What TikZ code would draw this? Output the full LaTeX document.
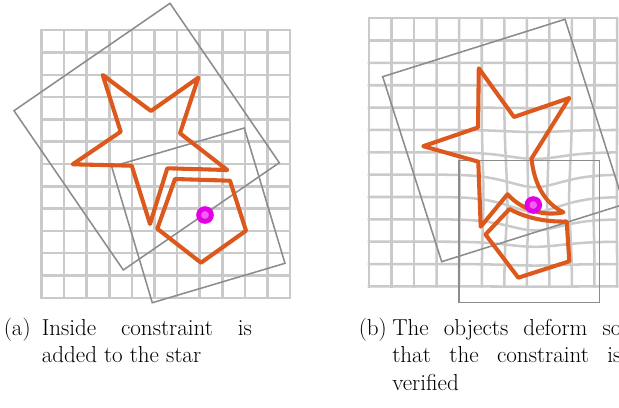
\documentclass[tikz,border=0pt]{standalone}
\usepackage{tikz}
\usetikzlibrary{positioning, calc}
\definecolor{gridgray}{RGB}{202,202,202}
\definecolor{boxgray}{RGB}{140,140,140}
\definecolor{shapeorange}{RGB}{221,88,28}
\definecolor{dotmag}{RGB}{228,0,228}
\definecolor{dotpink}{RGB}{242,96,242}
\tikzset{
  gridln/.style={gridgray, line width=1.8pt, line cap=rect},
  framebox/.style={boxgray, line width=1.1pt, line join=miter},
  objshape/.style={shapeorange, line width=2.9pt, line join=round},
  cdot/.style={circle, draw=dotmag, line width=3.5pt, fill=dotpink, minimum size=9pt, inner sep=0pt},
  captag/.style={inner sep=0pt, anchor=base west, font=\fontsize{16.4}{19.6}\selectfont},
}
\newcommand{\capbox}[2]{\parbox[t]{#1}{\tolerance=9999\hbadness=10000\hyphenpenalty=10000 #2}}

\begin{document}
\begin{tikzpicture}[x=0.025cm, y=-0.025cm,
    declare function={bump(\a,\b)=exp(-(((\a-535)/40)^2+((\b-194)/46)^2));
      wx(\a,\b)=\a-0.18*(\a-535)*bump(\a,\b);
      wy(\a,\b)=\b+15*bump(\a,\b);}]
  \useasboundingbox (0,0) rectangle (619,408);
  \clip (0,0) rectangle (619,408);

  % (a) grid
  \foreach \i in {0,...,11}
    \draw[gridln] (41.5+22.6*\i,30.2) -- ++(0,267.6);
  \foreach \j in {0,...,12}
    \draw[gridln] (41.5,30.2+22.3*\j) -- ++(248.6,0);

  % (a) frames
  \draw[framebox] (170,3.3) -- (279.3,162.7) -- (123.3,270) -- (14,110.7) -- cycle;
  \draw[framebox] (111.7,166.7) -- (244.3,128) -- (285,263.3) -- (152.3,302.7) -- cycle;

  % (a) star and pentagon
  \draw[objshape] (102.7,75) -- (151,111) -- (198.3,77.7) -- (180,133.3) -- (227.3,170)
    -- (167.3,168.3) -- (150,224) -- (131.7,165.7) -- (72.7,164.3) -- (120.7,131.7) -- cycle;
  \draw[objshape] (175,179) -- (230,180.7) -- (246,230.7) -- (201,262.7) -- (157.3,228.7) -- cycle;
  \node[cdot] (dota) at (205,215) {};

  % (b) deformed grid
  \foreach \i in {0,...,11}
    \draw[gridln] plot[domain=0:12, samples=49, variable=\t]
      ({wx(369+22.55*\i,18.2+22.35*\t)},{wy(369+22.55*\i,18.2+22.35*\t)});
  \foreach \j in {0,...,12}
    \draw[gridln] plot[domain=0:11, samples=45, variable=\t]
      ({wx(369+22.55*\t,18.2+22.35*\j)},{wy(369+22.55*\t,18.2+22.35*\j)});

  % (b) frames
  \draw[framebox] (382.7,76.7) -- (565,19.3) -- (624,204.3) -- (441.7,261.7) -- cycle;
  \draw[framebox] (459,160.7) rectangle (599.3,302.7);

  % (b) deformed star and pentagon
  \draw[objshape] (478.8,68.3) -- (514,117) -- (569.3,98) -- (531.5,158.5)
    .. controls (534,183) and (544,203) .. (563.5,212.3)
    .. controls (546,216) and (524,212) .. (507.5,194.3)
    -- (480.7,226.7) -- (478.3,161.7) -- (423.3,146.2) -- (478,127.5) -- cycle;
  \draw[objshape] (509.5,209)
    .. controls (528,219) and (548,222) .. (566.7,221.5)
    -- (569.3,261.3) -- (518.3,277.7) -- (485.5,234.5) -- cycle;
  \node[cdot] (dotb) at (533.3,205) {};

  % captions
  \node[captag] (taga) at (3.5,335) {(a)};
  \node[captag] (capa) at (41.5,335) {\capbox{149.4pt}{Inside constraint is added to the star}};
  \node[captag] (tagb) at (358.5,335) {(b)};
  \node[captag] (capb) at (392,335) {\capbox{163pt}{The objects deform so that the constraint is verified}};
\end{tikzpicture}
\end{document}
